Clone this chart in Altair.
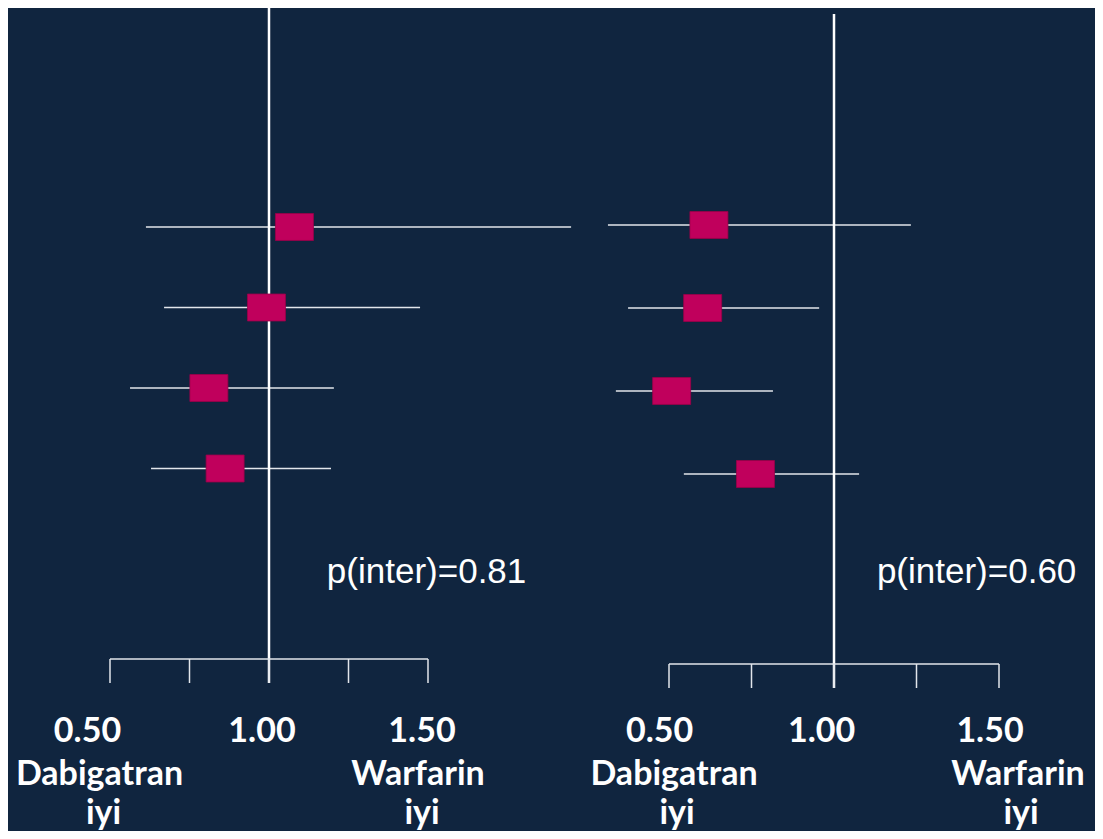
import altair as alt
import pandas as pd

BG = "#10253F"
SQ = "#C0005C"
SQ_EDGE = "#9A0049"
LINE = "#E2E6EB"

# ---- data ----
rows = [1, 2, 3, 4]
left_hr = [1.080, 0.992, 0.811, 0.862]
left_lo = [0.613, 0.670, 0.563, 0.629]
left_hi = [1.950, 1.475, 1.204, 1.195]
right_hr = [0.621, 0.602, 0.508, 0.762]
right_lo = [0.315, 0.376, 0.339, 0.545]
right_hi = [1.233, 0.955, 0.815, 1.076]
tick_values = [0.5, 0.75, 1.0, 1.25, 1.5]
number_values = [0.5, 1.0, 1.5]
number_labels = ["0.50", "1.00", "1.50"]
left_side = ["Dabigatran", "iyi"]
right_side = ["Warfarin", "iyi"]
p_labels = ["p(inter)=0.81", "p(inter)=0.60"]
ref_value = [1.0]

W, H = 1087, 823
RECT = "M-1,-0.71L1,-0.71L1,0.71L-1,0.71Z"
LABEL_FONT = "Lato"
P_FONT = "Liberation Sans"


def panel(hr, lo, hi, xdom, ydom, cfg, p_label):
    xs = alt.Scale(domain=xdom, nice=False, zero=False)
    ys = alt.Scale(domain=ydom, nice=False, zero=False, reverse=True)

    def X(f):
        return alt.X(f, scale=xs, axis=None)

    df = pd.DataFrame({"row": rows, "hr": hr, "lo": lo, "hi": hi})
    base = alt.Chart(df)
    ci = base.mark_rule(color=LINE, strokeWidth=1.5).encode(
        x=X("lo:Q"), x2="hi:Q", y=alt.Y("row:Q", scale=ys, axis=None)
    )
    sq = base.mark_point(
        shape=RECT, size=1444, filled=True, fill=SQ, stroke=SQ_EDGE,
        strokeWidth=0.8, opacity=1,
    ).encode(x=X("hr:Q"), y=alt.Y("row:Q", scale=ys, axis=None))

    vline = alt.Chart(pd.DataFrame({"v": ref_value})).mark_rule(
        color="white", strokeWidth=2.5
    ).encode(x=X("v:Q"), y=alt.value(cfg["vtop"]), y2=alt.value(cfg["vbot"]))

    axis_line = alt.Chart(
        pd.DataFrame({"a": [tick_values[0]], "b": [tick_values[-1]]})
    ).mark_rule(color=LINE, strokeWidth=1.5).encode(
        x=X("a:Q"), x2="b:Q", y=alt.value(cfg["base"])
    )
    ticks = alt.Chart(pd.DataFrame({"v": tick_values})).mark_rule(
        color=LINE, strokeWidth=1.5
    ).encode(x=X("v:Q"), y=alt.value(cfg["base"]), y2=alt.value(cfg["tickbot"]))

    layers = [ci, vline, axis_line, ticks, sq]

    def label(text, value, dx, y, font, size, weight="bold", align="center"):
        return alt.Chart(pd.DataFrame({"v": [value], "t": [text]})).mark_text(
            font=font, fontSize=size, fontWeight=weight, color="white",
            align=align, baseline="alphabetic", dx=dx,
        ).encode(x=X("v:Q"), y=alt.value(y), text="t:N")

    for t, v, dx in zip(number_labels, number_values, cfg["num_dx"]):
        layers.append(label(t, v, dx, 734, LABEL_FONT, 34))
    for i, t in enumerate(left_side):
        layers.append(label(t, number_values[0], cfg["left_dx"][i], [777, 816][i], LABEL_FONT, 34))
    for i, t in enumerate(right_side):
        layers.append(label(t, number_values[-1], cfg["right_dx"][i], [777, 816][i], LABEL_FONT, 34))
    layers.append(label(p_label, cfg["p_x"], 0, 575, P_FONT, 35, weight="normal", align="left"))
    return alt.layer(*layers)


left_cfg = dict(vtop=0, vbot=675, base=651, tickbot=675,
                num_dx=[-22.5, -7, -6], left_dx=[-10.5, -6.5], right_dx=[-10, -6],
                p_x=1.182)
right_cfg = dict(vtop=6, vbot=680, base=656, tickbot=680,
                 num_dx=[-9.4, -12.4, -9], left_dx=[5, 8], right_dx=[19, 22],
                 p_x=1.130)

left = panel(left_hr, left_lo, left_hi, [0.17925, 3.5975], [-1.7205, 8.5031], left_cfg, p_labels[0])
right = panel(right_hr, right_lo, right_hi, [-1.50303, 1.7909], [-1.6145, 8.3012], right_cfg, p_labels[1])

chart = alt.layer(left, right).resolve_scale(x="independent", y="independent").properties(
    width=W, height=H, padding=0, autosize="none", background=BG
).configure_view(stroke=None)

chart.save("out.html", embed_options={"renderer": "svg", "actions": False})
